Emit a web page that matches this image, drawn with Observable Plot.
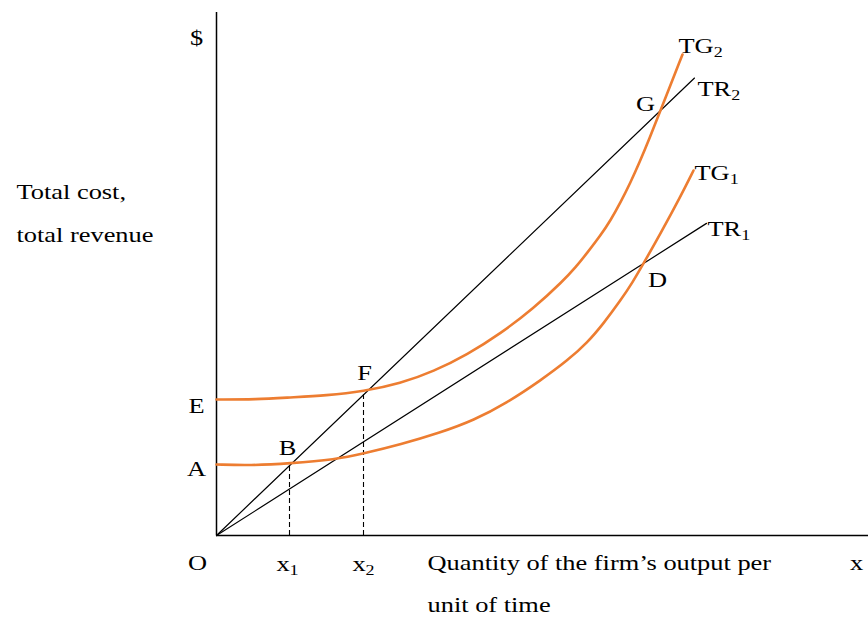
<!DOCTYPE html>
<html>
<head>
<meta charset="utf-8">
<script src="https://cdn.jsdelivr.net/npm/d3@7"></script>
<script src="https://cdn.jsdelivr.net/npm/@observablehq/plot@0.6"></script>
<style>
  html, body { margin: 0; padding: 0; background: #fff; }
  #chart svg { display: block; }
</style>
</head>
<body>
<div id="chart"></div>
<script>
// Units: quantity (x) and dollars (y), arbitrary units
const trSlope2 = 0.957, trEnd2 = 478;
const trSlope1 = 0.637, trEnd1 = 490;

const tg2X = [0, 40, 73, 110, 147, 184, 217, 251, 284, 317, 347, 359, 371, 384, 394, 404, 414, 423, 433, 444, 466];
const tg2Y = [136, 136, 138, 140, 144, 152, 164, 181, 202, 227, 255, 268, 283, 300, 315, 333, 353, 373, 397, 425, 481];

const tg1X = [0, 34, 73, 119, 147, 184, 224, 257, 291, 324, 351, 371, 387, 404, 416, 427, 444, 464, 477];
const tg1Y = [71, 70, 72, 76, 82, 91, 103, 115, 133, 155, 175, 193, 212, 235, 253, 272, 302, 339, 365];

const tr2 = [{x: 0, y: 0}, {x: trEnd2, y: trEnd2 * trSlope2}];
const tr1 = [{x: 0, y: 0}, {x: trEnd1, y: trEnd1 * trSlope1}];
const tg2 = tg2X.map((x, i) => ({x, y: tg2Y[i]}));
const tg1 = tg1X.map((x, i) => ({x, y: tg1Y[i]}));

const x1 = 73, x2 = 147;
const dropLines = [
  {x: x1, y1: 0, y2: 72},
  {x: x2, y1: 0, y2: 144}
];

// Annotation text
const labelText = ["$", "E", "A", "O", "B", "F", "G", "D", "TG_2", "TR_2", "TG_1", "TR_1", "x_1", "x_2", "x"];
const labelX    = [-20, -20, -20, -19, 71, 148, 429, 441, 462, 481, 478, 491, 71, 147, 640];
const labelY    = [498, 130, 67, -27, 88, 163, 432, 256, 490, 447, 363, 307, -28, -28, -27];
const labelAnchor = ["middle","middle","middle","middle","middle","middle","middle","middle","start","start","start","start","middle","middle","middle"];

const sideText = ["Total cost,", "total revenue", "Quantity of the firm\u2019s output per", "unit of time"];
const sideX = [-200, -200, 211, 211];
const sideY = [344, 301, -27, -69];

const labels = labelText.map((t, i) => ({t, x: labelX[i], y: labelY[i], a: labelAnchor[i]}));
const sides = sideText.map((t, i) => ({t, x: sideX[i], y: sideY[i]}));

const orange = "#ED7D31";

const plot = Plot.plot({
  width: 868,
  height: 617,
  marginLeft: 216,
  marginRight: 0,
  marginTop: 12,
  marginBottom: 82,
  x: {domain: [0, 652], axis: null},
  y: {domain: [0, 523], axis: null},
  style: {fontFamily: "'Liberation Serif', 'Times New Roman', serif", fontSize: "22px", background: "white", overflow: "visible"},
  marks: [
    Plot.ruleX([0], {y1: 0, y2: 523, stroke: "black", strokeWidth: 1.5}),
    Plot.ruleY([0], {x1: 0, x2: 652, stroke: "black", strokeWidth: 1.5}),
    Plot.ruleX(dropLines, {x: "x", y1: "y1", y2: "y2", stroke: "black", strokeWidth: 1.1, strokeDasharray: "5,3"}),
    Plot.line(tr2, {x: "x", y: "y", stroke: "black", strokeWidth: 1.2}),
    Plot.line(tr1, {x: "x", y: "y", stroke: "black", strokeWidth: 1.2}),
    Plot.line(tg2, {x: "x", y: "y", stroke: orange, strokeWidth: 2.6, curve: "basis"}),
    Plot.line(tg1, {x: "x", y: "y", stroke: orange, strokeWidth: 2.6, curve: "basis"}),
    Plot.text(labels.filter(d => d.a === "middle"), {x: "x", y: "y", text: "t", textAnchor: "middle", fill: "black", fontSize: 22}),
    Plot.text(labels.filter(d => d.a === "start"), {x: "x", y: "y", text: "t", textAnchor: "start", fill: "black", fontSize: 22}),
    Plot.text(sides, {x: "x", y: "y", text: "t", textAnchor: "start", fill: "black", fontSize: 22})
  ]
});

// turn "AB_n" into text with a real subscript
d3.select(plot).selectAll("text").each(function() {
  const el = d3.select(this);
  const s = el.text();
  if (s.includes("_")) {
    const [main, sub] = s.split("_");
    el.text(null);
    el.append("tspan").text(main);
    el.append("tspan").attr("font-size", 15).attr("dy", "0.3em").text(sub);
  }
});

document.getElementById("chart").appendChild(plot);

// the reference typesetting is a little wider than tall: stretch text horizontally about its anchor
const stretch = 1.2;
d3.select(plot).selectAll("text").each(function() {
  const b = this.getBBox();
  const anchor = getComputedStyle(this).textAnchor;
  const ax = anchor === "middle" ? b.x + b.width / 2 : anchor === "end" ? b.x + b.width : b.x;
  const t = this.getAttribute("transform") || "";
  this.setAttribute("transform", `${t} translate(${ax},0) scale(${stretch},1) translate(${-ax},0)`);
});
</script>
</body>
</html>
